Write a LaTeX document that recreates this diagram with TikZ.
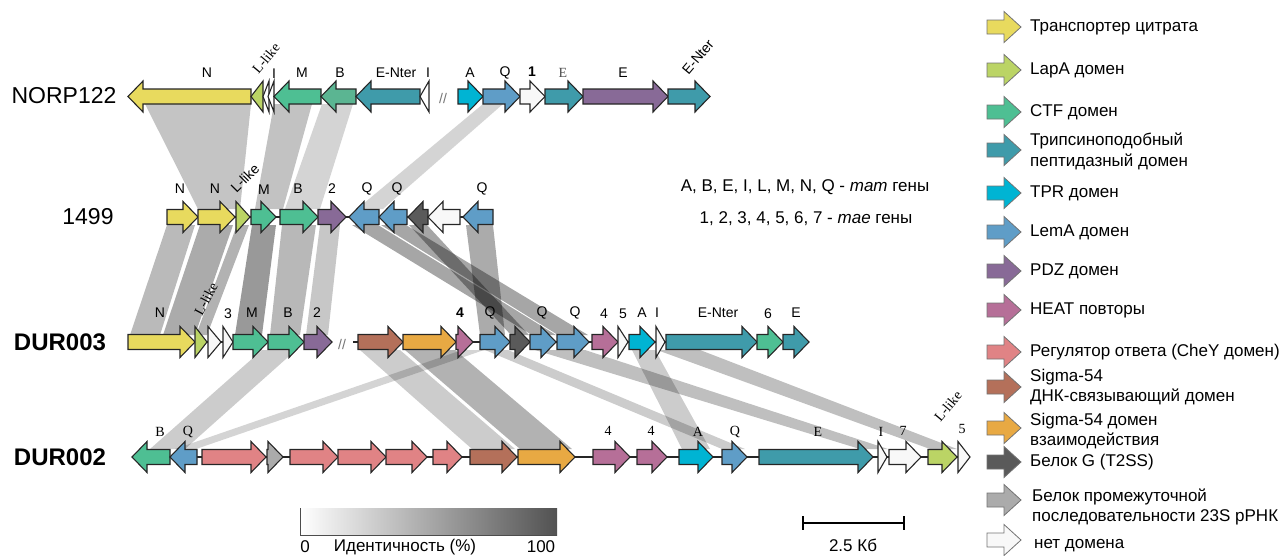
\documentclass[tikz,border=0pt]{standalone}
\usepackage{fontspec}
\setmainfont{Liberation Sans}
\newfontfamily\serifx{Liberation Serif}
\definecolor{cyel}{HTML}{E8DA5E}
\definecolor{clap}{HTML}{BBD465}
\definecolor{cctf}{HTML}{4EBF93}
\definecolor{cctfb}{HTML}{5BB592}
\definecolor{ctry}{HTML}{3F9BAA}
\definecolor{ctpr}{HTML}{00B4D3}
\definecolor{clem}{HTML}{5F9DC7}
\definecolor{cpdz}{HTML}{886A97}
\definecolor{cheat}{HTML}{B66F98}
\definecolor{cchey}{HTML}{E08385}
\definecolor{csdna}{HTML}{B4705A}
\definecolor{csint}{HTML}{E8A943}
\definecolor{cgg}{HTML}{5A5A5A}
\definecolor{ctwo}{HTML}{ABABAB}
\definecolor{cnone}{HTML}{F8F8F8}
\tikzset{
  gene/.style={draw=black!85,line width=1.1pt,line join=miter},
  leg/.style={draw=black!55,line width=0.8pt},
  bandf/.style={fill=black,draw=none},
  glab/.style={font=\fontsize{14}{16}\selectfont,inner sep=0pt},
  slab/.style={font=\serifx\fontsize{14}{16}\selectfont,inner sep=0pt},
  rowname/.style={font=\fontsize{23}{26}\selectfont,inner sep=0pt},
  boldname/.style={font=\bfseries\fontsize{24}{26}\selectfont,inner sep=0pt},
  legtext/.style={font=\fontsize{17}{20.5}\selectfont,align=left,anchor=west,inner sep=0pt},
  backbone/.style={draw=black!85,line width=1.1pt},
}
\newcommand\geneR[4]{%
  \pgfmathsetmacro\gLen{min(15,#2-#1)}%
  \pgfmathsetmacro\gBase{#2-\gLen}%
  \filldraw[gene,fill=#4] (#1,#3-7.5) -- (\gBase,#3-7.5) -- (\gBase,#3-15.5) -- (#2,#3) -- (\gBase,#3+15.5) -- (\gBase,#3+7.5) -- (#1,#3+7.5) -- cycle;}
\newcommand\geneL[4]{%
  \pgfmathsetmacro\gLen{min(15,#2-#1)}%
  \pgfmathsetmacro\gBase{#1+\gLen}%
  \filldraw[gene,fill=#4] (#2,#3-7.5) -- (\gBase,#3-7.5) -- (\gBase,#3-15.5) -- (#1,#3) -- (\gBase,#3+15.5) -- (\gBase,#3+7.5) -- (#2,#3+7.5) -- cycle;}
\newcommand\legarrow[2]{%
  \filldraw[leg,fill=#2] (987,#1-7) -- (1004,#1-7) -- (1004,#1-15.5) -- (1021,#1) -- (1004,#1+15.5) -- (1004,#1+7) -- (987,#1+7) -- cycle;}
\newcommand\band[7]{%
  \fill[bandf,fill opacity=#7] (#1,#3) -- (#2,#3) -- (#5,#6) -- (#4,#6) -- cycle;}
\begin{document}
\begin{tikzpicture}[x=1pt,y=-1pt]
\useasboundingbox (0,0) rectangle (1283,555);
% ---------------- bands NORP -> 1499
\band{145}{251}{104}{198}{240}{209}{0.23}
\band{274}{312}{104}{255}{283}{209}{0.24}
\band{322}{353}{104}{285}{320}{209}{0.17}
\band{483}{503}{104}{357}{383}{209}{0.17}
% ---------------- bands 1499 -> DUR003
\band{167}{195}{225}{130}{160}{335}{0.27}
\band{200}{233}{225}{163}{195}{335}{0.33}
\band{237}{249}{225}{196}{207}{335}{0.30}
\band{252}{276}{225}{235}{262}{335}{0.40}
\band{282}{316}{225}{270}{300}{335}{0.28}
\band{320}{340}{225}{306}{328}{335}{0.22}
\band{352}{378}{225}{532}{556}{335}{0.35}
\band{381}{406}{225}{558}{588}{335}{0.35}
\band{409}{427}{225}{511}{529}{335}{0.35}
\band{466}{493}{225}{480}{505}{335}{0.33}
% ---------------- bands DUR003 -> DUR002
\band{262}{296}{350}{150}{185}{449}{0.2}
\band{462}{484}{350}{175}{196}{449}{0.17}
\band{360}{400}{350}{472}{515}{449}{0.2}
\band{405}{455}{350}{520}{572}{449}{0.3}
\band{632}{655}{350}{682}{710}{449}{0.2}
\band{485}{508}{350}{722}{745}{449}{0.2}
\band{535}{585}{350}{860}{888}{449}{0.25}
\band{657}{700}{350}{930}{957}{449}{0.25}
% ---------------- NORP122
\node[rowname] (nNORP) at (64,96) {NORP122};
\draw[backbone] (128,96.5) -- (429,96.5);
\draw[backbone] (458,96.5) -- (710,96.5);
\geneL{128}{251}{96.5}{cyel}
\geneL{251}{263}{96.5}{clap}
\geneL{263}{269}{96.5}{white}
\geneL{268}{274}{96.5}{white}
\geneL{274}{321}{96.5}{cctf}
\geneL{321}{356}{96.5}{cctfb}
\geneL{356}{420}{96.5}{ctry}
\geneL{420}{429}{96.5}{white}
\node[glab,text=black!55] (sl1) at (443,98) {//};
\geneR{458}{483}{96.5}{ctpr}
\geneR{483}{520}{96.5}{clem}
\geneR{520}{545}{96.5}{cnone}
\geneR{545}{583}{96.5}{ctry}
\geneR{583}{668}{96.5}{cpdz}
\geneR{668}{710}{96.5}{ctry}
\node[glab] (a1) at (207,73) {N};
\node[slab,rotate=50] (a2) at (266,58) {L-like};
\node[glab] (a3) at (274,74) {I};
\node[glab] (a4) at (302,73) {M};
\node[glab] (a5) at (340,73) {B};
\node[glab] (a6) at (396,73) {E-Nter};
\node[glab] (a7) at (428,73) {I};
\node[glab] (a8) at (470,73) {A};
\node[glab] (a9) at (505,73) {Q};
\node[glab,font=\bfseries\fontsize{14}{16}\selectfont] (a10) at (532,72) {1};
\node[slab,text=black!70] (a11) at (563,73) {E};
\node[glab] (a12) at (623,73) {E};
\node[glab,rotate=50] (a13) at (698,57) {E-Nter};
% ---------------- 1499
\node[rowname] (n1499) at (88,217) {1499};
\draw[backbone] (167,217) -- (493,217);
\geneR{167}{198}{217}{cyel}
\geneR{198}{235}{217}{cyel}
\geneR{236}{250}{217}{clap}
\geneR{251}{276}{217}{cctf}
\geneR{280}{318}{217}{cctf}
\geneR{318}{346}{217}{cpdz}
\geneL{349}{379}{217}{clem}
\geneL{379}{407}{217}{clem}
\geneL{408}{428}{217}{cgg}
\geneL{428}{460}{217}{cnone}
\geneL{463}{493}{217}{clem}
\node[glab] (b1) at (180,189) {N};
\node[glab] (b2) at (215,189) {N};
\node[glab,rotate=45] (b3) at (245,178) {L-like};
\node[glab] (b4) at (264,190) {M};
\node[glab] (b5) at (298,189) {B};
\node[glab] (b6) at (332,189) {2};
\node[glab] (b7) at (367,189) {Q};
\node[glab] (b8) at (397,189) {Q};
\node[glab] (b9) at (482,189) {Q};
% ---------------- DUR003
\node[boldname] (nD3) at (60,342) {DUR003};
\draw[backbone] (128,342) -- (332,342);
\draw[backbone] (353,342) -- (809,342);
\geneR{128}{195}{342}{cyel}
\geneR{195}{207}{342}{clap}
\geneR{208}{221}{342}{cnone}
\geneR{223}{233}{342}{cnone}
\geneR{233}{268}{342}{cctf}
\geneR{268}{304}{342}{cctf}
\geneR{304}{332}{342}{cpdz}
\node[glab,text=black!55] (sl2) at (342,344) {//};
\geneR{358}{403}{342}{csdna}
\geneR{403}{456}{342}{csint}
\geneR{456}{473}{342}{cheat}
\geneR{480}{510}{342}{clem}
\geneR{510}{530}{342}{cgg}
\geneR{530}{556}{342}{clem}
\geneR{557}{589}{342}{clem}
\geneR{592}{618}{342}{cheat}
\geneR{618}{628}{342}{cnone}
\geneR{629}{655}{342}{ctpr}
\geneR{656}{665}{342}{cnone}
\geneR{666}{757}{342}{ctry}
\geneR{757}{783}{342}{cctf}
\geneR{783}{809}{342}{ctry}
\node[glab] (c1) at (160,313) {N};
\node[slab,rotate=62] (c2) at (206,299) {L-like};
\node[glab] (c3) at (228,314) {3};
\node[glab] (c4) at (252,313) {M};
\node[glab] (c5) at (288,313) {B};
\node[glab] (c6) at (317,313) {2};
\node[glab,font=\bfseries\fontsize{14}{16}\selectfont] (c7) at (460,313) {4};
\node[glab] (c8) at (490,313) {Q};
\node[glab] (c9) at (542,313) {Q};
\node[glab] (c10) at (575,313) {Q};
\node[glab] (c11) at (604,314) {4};
\node[glab] (c12) at (623,314) {5};
\node[glab] (c13) at (642,313) {A};
\node[glab] (c14) at (657,313) {I};
\node[glab] (c15) at (718,313) {E-Nter};
\node[glab] (c16) at (768,314) {6};
\node[glab] (c17) at (796,313) {E};
% ---------------- DUR002
\node[boldname] (nD2) at (60,457) {DUR002};
\draw[backbone] (132,457) -- (970,457);
\geneL{132}{170}{457}{cctf}
\geneL{170}{197}{457}{clem}
\geneR{202}{266}{457}{cchey}
\geneR{267}{283}{457}{ctwo}
\geneR{290}{338}{457}{cchey}
\geneR{338}{386}{457}{cchey}
\geneR{386}{427}{457}{cchey}
\geneR{433}{462}{457}{cchey}
\geneR{470}{517}{457}{csdna}
\geneR{518}{575}{457}{csint}
\geneR{593}{630}{457}{cheat}
\geneR{637}{667}{457}{cheat}
\geneR{679}{713}{457}{ctpr}
\geneR{722}{747}{457}{clem}
\geneR{759}{873}{457}{ctry}
\geneR{878}{887}{457}{cnone}
\geneR{889}{921}{457}{cnone}
\geneR{928}{957}{457}{clap}
\geneR{958}{970}{457}{cnone}
\node[slab] (d1) at (160,432) {B};
\node[slab] (d2) at (188,432) {Q};
\node[slab] (d3) at (608,431) {4};
\node[slab] (d4) at (651,431) {4};
\node[slab] (d5) at (698,432) {A};
\node[slab] (d6) at (735,432) {Q};
\node[slab] (d7) at (818,432) {E};
\node[slab] (d8) at (881,432) {I};
\node[slab] (d9) at (903,431) {7};
\node[slab,rotate=50] (d10) at (948,406) {L-like};
\node[slab] (d11) at (962,429) {5};
% ---------------- notes
\node[font=\fontsize{17}{20}\selectfont,inner sep=0pt] (note1) at (805,187) {A, B, E, I, L, M, N, Q - \textit{mam} гены};
\node[font=\fontsize{17}{20}\selectfont,inner sep=0pt] (note2) at (806,219) {1, 2, 3, 4, 5, 6, 7 - \textit{mae} гены};
% ---------------- colour bar
\fill[left color=white,right color=black!68] (300,508) rectangle (557,535);
\draw[black!70,line width=0.8pt] (300,508) -- (300,535) -- (557,535);
\node[font=\fontsize{17}{20}\selectfont,inner sep=0pt] (cb0) at (305,547) {0};
\node[font=\fontsize{17}{20}\selectfont,inner sep=0pt] (cbt) at (405,547) {Идентичность (\%)};
\node[font=\fontsize{17}{20}\selectfont,inner sep=0pt] (cb1) at (541,547) {100};
% ---------------- scale bar
\coordinate (s1) at (803,523);
\coordinate (s2) at (904,523);
\draw[black,line width=1.1pt] (s1) -- (s2);
\draw[black,line width=1.1pt] (803,516) -- (803,530);
\draw[black,line width=1.1pt] (904,516) -- (904,530);
\node[font=\fontsize{17}{20}\selectfont,inner sep=0pt] (sbt) at (853,545) {2.5 Кб};
% ---------------- legend
\legarrow{27}{cyel}
\node[legtext] (l1) at (1030,27) {Транспортер цитрата};
\legarrow{70}{clap}
\node[legtext] (l2) at (1030,70) {LapA домен};
\legarrow{112}{cctf}
\node[legtext] (l3) at (1030,112) {CTF домен};
\legarrow{150}{ctry}
\node[legtext] (l4) at (1030,151.5) {Трипсиноподобный\\пептидазный домен};
\legarrow{193}{ctpr}
\node[legtext] (l5) at (1030,193) {TPR домен};
\legarrow{232}{clem}
\node[legtext] (l6) at (1030,232) {LemA домен};
\legarrow{271}{cpdz}
\node[legtext] (l7) at (1030,271) {PDZ домен};
\legarrow{310}{cheat}
\node[legtext] (l8) at (1030,310) {HEAT повторы};
\legarrow{352}{cchey}
\node[legtext] (l9) at (1030,352) {Регулятор ответа (CheY домен)};
\legarrow{387}{csdna}
\node[legtext] (l10) at (1030,387) {Sigma-54\\ДНК-связывающий домен};
\legarrow{428}{csint}
\node[legtext] (l11) at (1030,431) {Sigma-54 домен\\взаимодействия};
\legarrow{462}{cgg}
\node[legtext] (l12) at (1030,462) {Белок G (T2SS)};
\legarrow{500}{ctwo}
\node[legtext] (l13) at (1032,507) {Белок промежуточной\\последовательности 23S рРНК};
\legarrow{540}{cnone}
\node[legtext] (l14) at (1034,546) {нет домена};
\end{tikzpicture}
\end{document}
